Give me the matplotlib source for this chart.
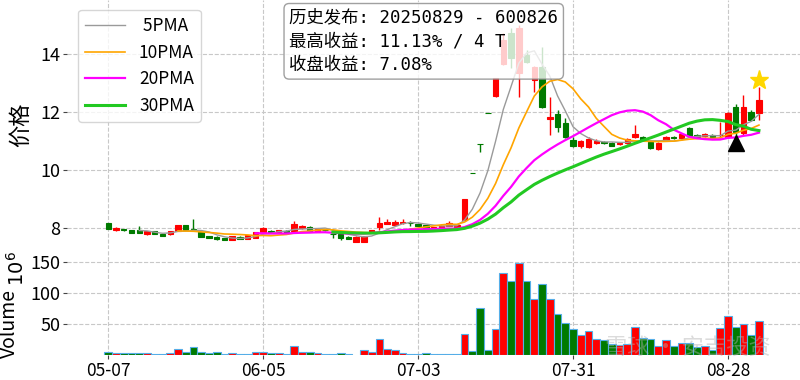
import numpy as np
import pandas as pd
import matplotlib
matplotlib.use('Agg')
import matplotlib.pyplot as plt

plt.rcParams['font.family'] = ['Noto Sans CJK SC', 'DejaVu Sans']
plt.rcParams['axes.unicode_minus'] = False

# daily prices (05-07 .. 09-03)
opens = [8.16, 7.92, 7.96, 7.93, 7.93, 7.79, 7.90, 7.80, 7.78, 7.90,
         8.10, 7.95, 7.85, 7.73, 7.70, 7.64, 7.59, 7.70, 7.62, 7.67,
         7.87, 7.91, 7.85, 7.91, 7.90, 7.99, 8.05, 7.87, 7.93, 7.79,
         7.78, 7.70, 7.53, 7.53, 7.85, 8.05, 8.14, 8.10, 8.16, 8.17,
         8.13, 8.10, 8.01, 8.02, 8.07, 8.05, 8.28, 9.90, 10.89, 11.98,
         12.56, 13.64, 14.72, 13.36, 13.97, 13.10, 13.56, 11.76, 11.93, 11.62,
         11.03, 10.83, 10.79, 10.93, 10.97, 10.93, 10.90, 10.93, 11.14, 11.14,
         10.97, 10.72, 11.03, 11.14, 11.10, 11.45, 11.21, 11.17, 11.21, 11.19,
         11.14, 12.17, 11.28, 12.00, 11.97]
closes = [7.97, 8.01, 7.92, 7.84, 7.83, 7.90, 7.79, 7.73, 7.90, 8.10,
          7.93, 7.94, 7.70, 7.65, 7.61, 7.59, 7.72, 7.62, 7.75, 7.86,
          8.00, 7.84, 7.93, 7.84, 8.14, 8.08, 7.90, 7.95, 7.92, 7.78,
          7.65, 7.62, 7.70, 7.72, 7.93, 8.16, 8.20, 8.22, 8.22, 8.16,
          8.07, 8.01, 8.04, 8.08, 8.16, 8.10, 9.00, 9.90, 10.89, 11.98,
          13.18, 14.49, 13.86, 14.90, 13.73, 13.56, 12.18, 11.83, 11.48, 11.14,
          10.83, 11.00, 11.07, 11.00, 10.93, 10.83, 10.93, 11.07, 11.24, 11.03,
          10.76, 10.93, 11.14, 11.10, 11.24, 11.17, 11.14, 11.24, 11.14, 11.21,
          11.97, 11.31, 12.17, 11.72, 12.41]
highs = [8.17, 8.02, 7.97, 7.94, 8.07, 7.91, 7.91, 7.81, 7.91, 8.11,
         8.12, 8.31, 7.86, 7.74, 7.71, 7.65, 7.73, 7.71, 7.76, 7.87,
         8.05, 7.92, 7.94, 7.92, 8.24, 8.10, 8.06, 7.96, 7.95, 7.80,
         7.79, 7.71, 7.71, 7.73, 7.94, 8.39, 8.31, 8.28, 8.31, 8.24,
         8.14, 8.11, 8.05, 8.09, 8.24, 8.12, 9.01, 9.90, 10.89, 11.98,
         13.18, 14.71, 14.89, 15.00, 14.14, 13.58, 14.25, 12.52, 12.07, 11.79,
         11.14, 11.02, 11.14, 11.07, 11.00, 10.95, 10.97, 11.10, 11.55, 11.17,
         10.99, 10.95, 11.16, 11.16, 11.26, 11.48, 11.23, 11.27, 11.23, 11.66,
         12.00, 12.28, 12.59, 12.07, 12.86]
lows = [7.96, 7.91, 7.90, 7.83, 7.82, 7.77, 7.78, 7.72, 7.77, 7.89,
        7.92, 7.92, 7.69, 7.64, 7.60, 7.57, 7.58, 7.61, 7.61, 7.66,
        7.86, 7.83, 7.84, 7.83, 7.88, 7.98, 7.89, 7.86, 7.88, 7.67,
        7.60, 7.61, 7.52, 7.52, 7.84, 7.93, 8.13, 8.09, 8.15, 8.07,
        8.06, 8.00, 8.00, 8.01, 8.06, 8.04, 8.27, 9.90, 10.63, 11.98,
        12.53, 13.62, 13.51, 12.53, 13.70, 12.70, 12.15, 11.21, 11.31, 11.10,
        10.80, 10.76, 10.76, 10.90, 10.90, 10.81, 10.86, 10.90, 11.12, 11.00,
        10.74, 10.70, 11.00, 11.08, 11.08, 11.15, 11.12, 11.15, 11.12, 11.12,
        11.10, 11.12, 11.20, 11.70, 11.72]
# volume in millions of shares
volumes = [5.3, 2.7, 2.7, 3.5, 3.5, 3.5, 1.5, 1.5, 3.5, 9.7,
           5.0, 13.4, 5.0, 3.5, 5.0, 1.5, 3.5, 1.5, 1.5, 5.0,
           5.0, 3.5, 2.5, 1.5, 15.0, 5.0, 5.5, 2.5, 1.0, 2.0,
           3.5, 1.0, np.nan, 8.0, 5.5, 26.0, 10.0, 8.0, 3.5, 2.0,
           2.0, 3.0, 1.0, 1.0, 2.0, 1.0, 34.0, 6.5, 75.0, 8.0,
           42.0, 132.0, 119.0, 148.0, 119.0, 90.0, 114.0, 91.0, 66.0, 51.0,
           42.0, 32.0, 39.0, 26.0, 24.0, 18.0, 16.0, 18.0, 45.0, 27.0,
           26.0, 14.5, 24.0, 14.5, 19.0, 19.0, 13.0, 14.0, 8.0, 43.0,
           63.0, 45.0, 50.0, 32.0, 55.0]

tick_pos = [0, 20, 40, 60, 80]
tick_labels = ['05-07', '06-05', '07-03', '07-31', '08-28']

ma_windows = [5, 10, 20, 30]
ma_colors = ['#9a9a9a', 'orange', 'magenta', '#22c922']
ma_widths = [1.0, 1.2, 1.6, 2.2]

release_idx = 81
peak_idx = 84
info_lines = ['历史发布: 20250829 - 600826',
              '最高收益: 11.13% / 4 T',
              '收盘收益: 7.08%']

df = pd.DataFrame({'open': opens, 'close': closes, 'high': highs,
                   'low': lows, 'vol': volumes})
x = np.arange(len(df))
colors = np.where(df['close'] > df['open'], '#ff0000', '#007a00')

fig = plt.figure(figsize=(8, 3.8), dpi=100)
ax = fig.add_axes([0.084, 0.345, 0.916, 0.655])
axv = fig.add_axes([0.084, 0.066, 0.916, 0.279], sharex=ax)

for a in (ax, axv):
    for s in a.spines.values():
        s.set_visible(False)
    a.grid(True, linestyle='--', color='#c8c8c8', linewidth=0.8)
    a.set_axisbelow(True)
    a.tick_params(labelsize=13, length=3, pad=2, color='#444444')

# candles
ax.vlines(x, df['low'], df['high'], color=colors, linewidth=1, zorder=2)
ax.bar(x, (df['close'] - df['open']).abs(), bottom=df[['open', 'close']].min(axis=1),
       width=0.7, color=colors, edgecolor=colors, linewidth=0.8, zorder=3)

# moving averages
for w, c, lw in zip(ma_windows, ma_colors, ma_widths):
    ma = df['close'].rolling(w).mean()
    ax.plot(x, ma, color=c, linewidth=lw, label=f'{w:>2}PMA', zorder=4)

ax.plot(release_idx, df['low'][release_idx] * 0.982, marker='^', color='black',
        markersize=11, zorder=5)
ax.plot(peak_idx, df['high'][peak_idx] * 1.018, marker='*', color='gold',
        markersize=14, zorder=5)

ax.set_xlim(-5.3, 89.3)
ax.set_ylim(7.28, 15.86)
ax.set_yticks([8, 10, 12, 14])
ax.set_ylabel('价格', fontsize=16, labelpad=6)
ax.tick_params(axis='x', bottom=False, labelbottom=False)

leg = ax.legend(loc='upper left', bbox_to_anchor=(0.015, 0.96), borderaxespad=0,
                fontsize=12.5, handlelength=2.3, labelspacing=0.5)
for t in leg.get_texts():
    t.set_ha('right')
leg.get_frame().set_edgecolor('#cccccc')

ax.text(0.303, 0.965, '\n'.join(info_lines), transform=ax.transAxes, fontsize=12.5,
        family=['DejaVu Sans Mono', 'Noto Sans CJK SC'],
        va='top', ha='left', linespacing=1.4, zorder=10,
        bbox=dict(boxstyle='round,pad=0.3', facecolor='white', alpha=0.8,
                  edgecolor='#888888'))

# volume
axv.bar(x, df['vol'], width=1.0, color=colors, edgecolor='#55aee8', linewidth=0.8)
axv.set_ylim(0, 171)
axv.set_yticks([50, 100, 150])
axv.set_xticks(tick_pos)
axv.set_xticklabels(tick_labels, fontsize=12.5)
axv.set_ylabel('Volume', fontsize=14, labelpad=4)
axv.yaxis.set_label_coords(-0.065, 0.3)
axv.text(-0.067, 0.98, '$10^6$', transform=axv.transAxes, rotation=90,
         fontsize=14, ha='center', va='top')

fig.text(0.86, 0.085, '雪球 · 安吉投资', fontsize=16, color='#b0b0b0',
         alpha=0.45, ha='center', va='center')

fig.savefig('out.png', dpi=100)
